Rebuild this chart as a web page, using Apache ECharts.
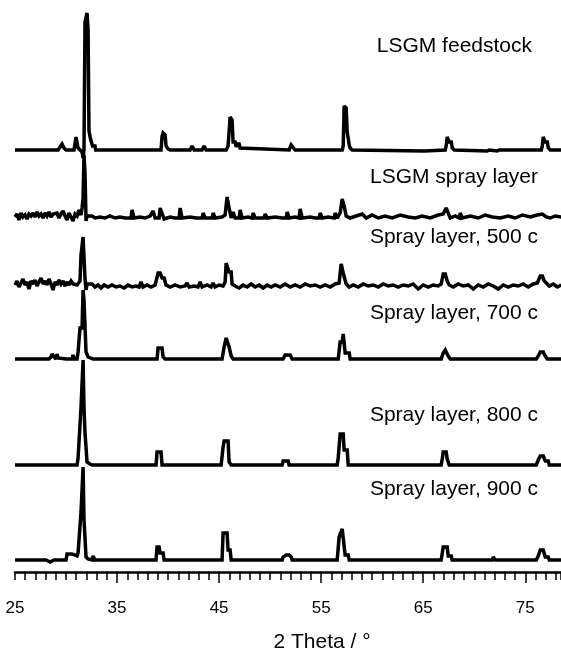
<!DOCTYPE html>
<html>
<head>
<meta charset="utf-8">
<script src="https://cdn.jsdelivr.net/npm/echarts@6/dist/echarts.min.js"></script>
<style>
  html, body { margin: 0; padding: 0; background: #fff; }
  #chart { width: 561px; height: 654px; }
</style>
</head>
<body>
<div id="chart"></div>
<script>
// Tick labels (2 Theta, degrees)
const tickLabels = [25, 35, 45, 55, 65, 75];
const majorTicks = [35, 45, 55, 65, 75];

// Series names (labels drawn on the chart)
const seriesNames = ['LSGM feedstock', 'LSGM spray layer', 'Spray layer, 500 c', 'Spray layer, 700 c', 'Spray layer, 800 c', 'Spray layer, 900 c'];

// Vertical stacking offsets of each pattern (intensity units)
const offsets = [422, 354, 285, 213, 107, 12];

// Patterns: [2 Theta, relative intensity]
const feedstock = [[25.00,0],[29.22,0],[29.41,3],[29.61,6],[29.80,2],[30.00,0],[30.78,0],[30.98,13],[31.08,12],[31.18,2],[31.37,0],[31.57,-2],[31.67,-8],[31.76,0],[31.86,128],[31.96,128],[32.06,137],[32.16,120],[32.25,19],[32.35,19],[32.40,11],[32.55,11],[32.60,4],[32.84,4],[32.90,0],[33.63,0],[33.68,-2],[33.78,0],[38.24,0],[38.29,-1],[38.43,0],[39.31,0],[39.41,14],[39.51,17],[39.61,16],[39.71,15],[39.80,4],[40.00,1],[40.20,0],[42.16,0],[42.35,4],[42.55,0],[43.33,0],[43.53,4],[43.73,0],[45.69,0],[45.88,4],[45.98,4],[46.08,33],[46.18,33],[46.27,30],[46.37,8],[46.57,8],[46.67,3],[46.76,6],[46.96,6],[47.06,2],[47.25,0],[51.86,0],[52.06,5],[52.25,6],[52.45,0],[57.06,0],[57.16,4],[57.25,44],[57.35,44],[57.45,42],[57.55,18],[57.65,18],[57.75,5],[57.84,2],[58.04,0],[65.10,-1],[65.29,0],[67.16,0],[67.25,4],[67.35,13],[67.45,13],[67.55,8],[67.75,8],[67.84,2],[68.04,0],[71.27,-1],[71.47,0],[72.25,-1],[72.45,0],[76.57,0],[76.67,4],[76.76,13],[76.86,13],[76.96,8],[77.16,8],[77.25,2],[77.45,0],[78.53,0]];

const sprayLayer = [[25.00,1],[25.20,4],[25.39,-2],[25.59,5],[25.78,1],[25.98,3],[26.18,-1],[26.37,4],[26.57,2],[26.76,5],[26.96,1],[27.16,6],[27.35,2],[27.55,4],[27.75,0],[27.94,5],[28.14,2],[28.33,6],[28.53,1],[28.73,4],[28.92,2],[29.12,5],[29.31,0],[29.51,4],[29.71,7],[29.90,2],[30.10,-2],[30.29,5],[30.49,1],[30.69,-3],[30.88,4],[31.08,2],[31.27,8],[31.47,3],[31.57,10],[31.67,20],[31.76,63],[31.86,45],[31.96,-3],[32.06,2],[32.25,0],[32.55,2],[32.84,0],[33.33,1],[33.82,0],[34.31,2],[34.80,0],[35.29,1],[35.78,0],[36.37,0],[36.47,8],[36.67,0],[37.25,1],[37.75,0],[38.24,2],[38.43,0],[38.53,7],[38.73,0],[39.12,0],[39.22,10],[39.41,8],[39.61,-1],[40.20,1],[40.69,0],[41.08,0],[41.18,10],[41.37,0],[42.16,1],[42.75,0],[43.33,0],[43.43,5],[43.63,0],[44.31,0],[44.41,5],[44.61,0],[45.29,1],[45.59,3],[45.78,21],[45.98,10],[46.18,0],[46.37,6],[46.57,0],[46.96,0],[47.06,8],[47.25,0],[47.84,1],[48.24,0],[48.33,5],[48.53,0],[49.41,0],[49.51,4],[49.71,0],[50.49,1],[51.18,0],[51.57,0],[51.67,6],[51.86,0],[52.45,1],[52.84,0],[52.94,9],[53.14,0],[53.92,1],[54.41,0],[54.80,0],[54.90,5],[55.10,0],[55.69,1],[56.27,0],[56.37,5],[56.57,0],[56.86,5],[57.06,19],[57.25,12],[57.45,2],[57.84,0],[58.43,2],[59.02,4],[59.41,0],[60.00,3],[60.59,0],[61.27,2],[61.96,0],[62.75,3],[63.53,1],[64.22,0],[64.90,2],[65.69,0],[66.47,3],[66.96,4],[67.25,10],[67.45,5],[67.65,0],[68.14,2],[68.53,0],[68.63,5],[68.82,0],[69.61,2],[70.39,0],[71.08,3],[71.76,1],[72.55,0],[73.33,2],[74.02,0],[74.71,3],[75.49,1],[76.18,3],[76.67,4],[76.86,6],[77.06,1],[77.45,0],[77.94,2],[78.53,1]];

const layer500 = [[25.00,2],[25.20,6],[25.39,0],[25.59,4],[25.78,8],[25.98,2],[26.18,5],[26.37,-2],[26.57,6],[26.76,3],[26.96,7],[27.16,1],[27.35,5],[27.55,9],[27.75,3],[27.94,6],[28.14,2],[28.33,8],[28.53,3],[28.73,-3],[28.92,5],[29.12,2],[29.31,7],[29.51,3],[29.71,6],[29.90,1],[30.10,5],[30.29,2],[30.49,6],[30.69,3],[30.88,5],[31.08,2],[31.27,4],[31.37,6],[31.47,32],[31.57,32],[31.67,50],[31.76,50],[31.86,8],[31.96,-3],[32.06,3],[32.25,1],[32.55,3],[32.84,0],[33.14,2],[33.43,-1],[33.73,2],[34.12,0],[34.51,2],[34.90,0],[35.29,1],[35.69,-1],[36.08,2],[36.47,0],[36.86,1],[37.16,0],[37.35,5],[37.55,0],[37.94,2],[38.33,0],[38.73,2],[38.92,1],[39.02,14],[39.22,14],[39.41,9],[39.61,9],[39.80,2],[40.20,0],[40.69,2],[41.18,0],[41.67,1],[41.86,4],[42.06,0],[42.55,1],[42.94,0],[43.14,5],[43.33,0],[43.82,2],[44.22,0],[44.41,4],[44.61,0],[45.00,2],[45.39,1],[45.59,5],[45.69,24],[45.88,24],[45.98,15],[46.18,15],[46.27,3],[46.57,1],[46.96,-1],[47.35,2],[47.75,0],[48.14,3],[48.53,0],[48.92,2],[49.31,-1],[49.71,2],[50.10,0],[50.49,2],[50.98,0],[51.47,3],[51.96,0],[52.45,2],[52.94,0],[53.43,3],[53.92,1],[54.41,2],[54.90,0],[55.39,2],[55.88,0],[56.37,3],[56.76,4],[56.96,23],[57.06,23],[57.16,14],[57.35,14],[57.45,3],[57.75,0],[58.14,2],[58.63,0],[59.12,3],[59.61,1],[60.10,2],[60.59,0],[61.08,3],[61.57,1],[62.06,2],[62.55,0],[63.04,2],[63.53,1],[64.02,3],[64.51,-2],[65.00,2],[65.49,0],[65.98,2],[66.47,1],[66.76,3],[66.96,13],[67.16,13],[67.35,6],[67.55,2],[67.94,0],[68.43,3],[68.92,1],[69.41,2],[69.90,-2],[70.39,2],[70.88,0],[71.37,3],[71.86,1],[72.35,-2],[72.84,2],[73.33,0],[73.82,2],[74.31,1],[74.80,3],[75.29,0],[75.78,3],[76.18,4],[76.47,11],[76.67,11],[76.86,6],[77.06,4],[77.35,1],[77.75,3],[78.14,0],[78.53,2]];

const layer700 = [[25.00,0],[25.88,0],[25.98,-2],[26.08,0],[27.06,0],[27.16,-2],[27.25,0],[27.65,0],[27.75,-2],[27.84,0],[28.33,0],[28.43,-2],[28.53,2],[28.63,5],[28.82,2],[29.02,0],[29.12,5],[29.22,1],[30.00,0],[30.10,-2],[30.20,0],[30.59,0],[30.69,4],[30.78,0],[31.08,0],[31.18,7],[31.27,7],[31.37,31],[31.57,31],[31.67,69],[31.76,59],[31.86,59],[31.96,7],[32.16,2],[32.65,0],[34.71,0],[34.80,-2],[34.90,0],[38.92,0],[39.02,11],[39.41,11],[39.51,2],[39.71,0],[45.29,0],[45.49,12],[45.69,21],[45.88,21],[45.98,12],[46.08,12],[46.18,3],[46.37,0],[47.25,0],[47.35,-2],[47.45,0],[49.12,0],[49.22,-2],[49.31,0],[51.27,0],[51.47,4],[51.96,4],[52.16,0],[56.67,0],[56.86,17],[57.06,17],[57.16,25],[57.25,25],[57.35,6],[57.75,6],[57.84,0],[62.16,0],[62.25,-2],[62.35,0],[66.76,0],[66.96,6],[67.16,9],[67.35,9],[67.45,3],[67.65,0],[76.08,0],[76.27,3],[76.47,7],[76.76,7],[76.96,3],[77.16,0],[78.53,0]];

const layer800 = [[25.00,0],[31.08,0],[31.18,7],[31.37,7],[31.47,58],[31.57,58],[31.67,105],[31.76,58],[31.86,32],[31.96,32],[32.06,3],[32.35,1],[32.55,0],[34.22,0],[34.31,2],[34.41,0],[37.45,0],[37.55,-2],[37.65,0],[38.82,0],[38.92,13],[39.31,13],[39.41,0],[42.35,0],[42.45,-2],[42.55,0],[44.02,0],[44.12,-2],[44.22,0],[45.20,0],[45.39,18],[45.49,24],[45.88,24],[45.98,3],[46.18,0],[49.31,0],[49.41,-2],[49.51,0],[51.18,0],[51.27,4],[51.76,4],[51.86,0],[56.57,0],[56.67,7],[56.86,31],[57.16,31],[57.25,15],[57.55,15],[57.65,0],[65.59,0],[65.69,-2],[65.78,0],[66.76,0],[66.86,6],[66.96,13],[67.25,13],[67.35,6],[67.45,6],[67.55,0],[69.22,0],[69.31,-2],[69.41,0],[70.29,0],[70.39,-2],[70.49,0],[71.18,0],[71.27,-2],[71.37,0],[72.25,0],[72.35,-2],[72.45,0],[74.41,0],[74.51,-2],[74.61,0],[76.08,0],[76.27,5],[76.47,9],[76.76,9],[76.96,4],[77.25,4],[77.35,0],[78.53,0]];

const layer900 = [[25.00,0],[28.04,0],[28.14,-2],[28.43,-2],[28.53,0],[28.82,0],[28.92,-2],[29.02,0],[29.31,0],[29.41,-2],[29.51,0],[30.00,0],[30.10,6],[30.59,6],[30.69,4],[31.08,4],[31.18,7],[31.37,7],[31.47,48],[31.57,48],[31.67,93],[31.76,41],[31.86,41],[31.96,3],[32.16,1],[32.55,0],[32.65,4],[32.84,0],[34.51,0],[34.61,-2],[34.80,0],[35.10,0],[35.20,-2],[35.29,0],[38.82,0],[38.92,13],[39.12,13],[39.22,7],[39.51,7],[39.61,0],[41.18,0],[41.27,-2],[41.37,0],[42.75,0],[42.84,-2],[42.94,0],[44.61,0],[44.71,-2],[44.80,0],[45.29,0],[45.39,27],[45.78,27],[45.88,10],[46.08,10],[46.18,0],[51.18,0],[51.27,3],[51.57,5],[51.86,5],[52.06,3],[52.16,0],[52.65,0],[52.75,-2],[52.84,0],[53.43,0],[53.53,-2],[53.63,0],[54.22,0],[54.31,-2],[54.41,0],[56.57,0],[56.76,23],[57.06,31],[57.25,31],[57.35,5],[57.65,5],[57.75,0],[58.82,0],[58.92,-2],[59.02,0],[60.10,0],[60.20,-2],[60.29,0],[66.76,0],[66.96,13],[67.35,13],[67.45,4],[67.75,4],[67.84,0],[71.76,0],[71.86,3],[72.06,0],[76.08,0],[76.27,4],[76.47,10],[76.76,10],[76.96,3],[77.25,3],[77.35,0],[78.53,0]];

const patterns = [feedstock, sprayLayer, layer500, layer700, layer800, layer900];

const FONT = '"Liberation Sans", Arial, Helvetica, sans-serif';

const chart = echarts.init(document.getElementById('chart'), null, { renderer: 'canvas' });

const series = patterns.map((p, i) => ({
  name: seriesNames[i],
  type: 'line',
  showSymbol: false,
  symbol: 'none',
  silent: true,
  animation: false,
  clip: true,
  lineStyle: { color: '#000', width: 3.5, join: 'miter', miterLimit: 2 },
  data: p.map(([t, v]) => [t, v + offsets[i]])
}));

const labelPos = [
  { x: 532, y: 57 },
  { x: 538, y: 188 },
  { x: 538, y: 248 },
  { x: 538, y: 324 },
  { x: 538, y: 426 },
  { x: 538, y: 500 }
];

chart.setOption({
  backgroundColor: '#fff',
  animation: false,
  grid: { left: 15, right: 0, top: 0, bottom: 82, containLabel: false, outerBoundsMode: 'none' },
  xAxis: [
    {
      type: 'value',
      min: 25,
      max: 78.5,
      position: 'bottom',
      name: '2 Theta / °',
      nameLocation: 'middle',
      nameGap: 60,
      nameTextStyle: { color: '#000', fontSize: 21, fontFamily: FONT, padding: [0, 0, 0, 68] },
      axisLine: { show: true, lineStyle: { color: '#000', width: 2.5 } },
      axisTick: { show: true, customValues: majorTicks, length: 11, lineStyle: { color: '#000', width: 1.5 } },
      axisLabel: { show: true, customValues: tickLabels, margin: 28, color: '#000', fontSize: 17, fontFamily: FONT },
      splitLine: { show: false }
    },
    {
      type: 'value',
      min: 25,
      max: 78.5,
      interval: 1,
      position: 'bottom',
      axisLine: { show: false },
      axisTick: { show: true, length: 8, lineStyle: { color: '#000', width: 1.5 } },
      axisLabel: { show: false },
      splitLine: { show: false }
    }
  ],
  yAxis: {
    type: 'value',
    min: 0,
    max: 572,
    show: false,
    splitLine: { show: false }
  },
  graphic: seriesNames.map((n, i) => ({
    type: 'text',
    x: labelPos[i].x,
    y: labelPos[i].y,
    silent: true,
    style: {
      text: n,
      fill: '#000',
      font: '21px ' + FONT,
      textAlign: 'right',
      textVerticalAlign: 'bottom'
    }
  })),
  series: series
});
</script>
</body>
</html>
